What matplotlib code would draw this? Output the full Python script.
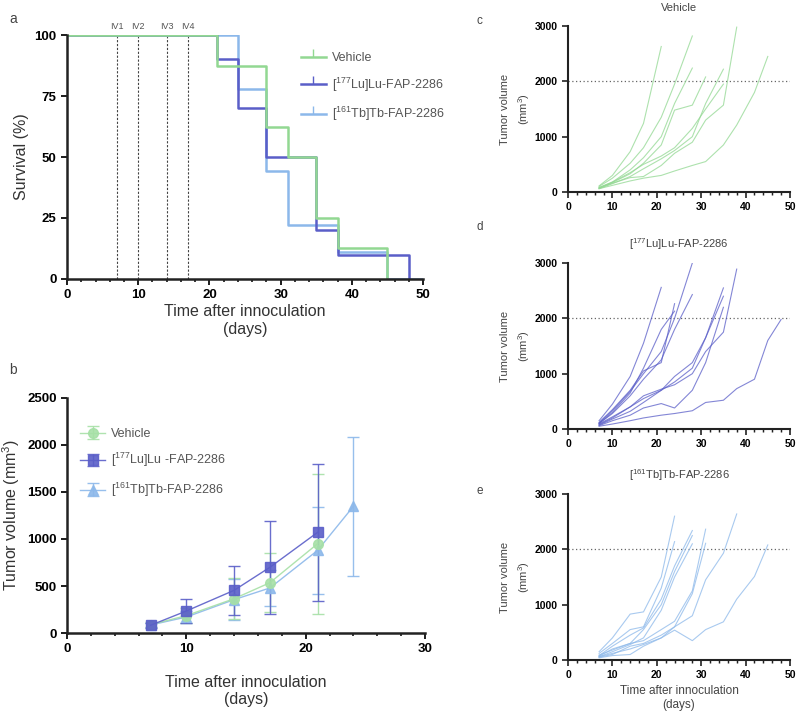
import matplotlib
matplotlib.use("Agg")
import matplotlib.pyplot as plt
from matplotlib.lines import Line2D
from matplotlib.ticker import MultipleLocator

plt.rcParams['font.family'] = ['Liberation Sans', 'DejaVu Sans']
plt.rcParams['mathtext.default'] = 'regular'

GREEN = '#92d892'
LU = '#5a5ec8'
TB = '#8cb8ea'

lab_veh = 'Vehicle'
lab_lu = '[$^{177}$Lu]Lu-FAP-2286'
lab_tb = '[$^{161}$Tb]Tb-FAP-2286'

# survival (Kaplan-Meier steps)
veh_t = [0, 21, 28, 31, 35, 38, 45]
veh_s = [100, 87.5, 62.5, 50, 25, 12.5, 0]
lu_t = [0, 21, 24, 28, 35, 38, 48]
lu_s = [100, 90, 70, 50, 20, 10, 0]
tb_t = [0, 24, 28, 31, 38, 45]
tb_s = [100, 77.8, 44.4, 22.2, 11.1, 0]
iv_days = [7, 10, 14, 17]
iv_labels = ['IV1', 'IV2', 'IV3', 'IV4']

# mean tumor volume +- SD
mean_days_veh = [7, 10, 14, 17, 21]
mean_veh = [88, 185, 365, 535, 950]
sd_veh = [25, 80, 215, 316, 745]
mean_days_lu = [7, 10, 14, 17, 21]
mean_lu = [82, 234, 454, 699, 1071]
sd_lu = [25, 124, 260, 492, 730]
mean_days_tb = [7, 10, 14, 17, 21, 24]
mean_tb = [85, 170, 355, 479, 879, 1348]
sd_tb = [25, 60, 215, 195, 460, 737]

# individual tumor growth
days = [7, 10, 14, 17, 21, 24, 28, 31, 35, 38, 42, 45, 48]
veh_mice = [
    [110, 300, 730, 1240, 2630],
    [100, 250, 520, 800, 1350, 1950, 2820],
    [80, 180, 400, 620, 1000, 1600, 2240],
    [70, 170, 330, 520, 850, 1480, 1570, 2080],
    [60, 150, 280, 420, 600, 750, 1000, 1600, 2220],
    [80, 180, 350, 500, 650, 800, 1150, 1500, 1950],
    [70, 160, 260, 280, 480, 700, 900, 1300, 1570, 2980],
    [60, 120, 200, 250, 300, 380, 480, 550, 850, 1210, 1800, 2450],
]
lu_mice = [
    [150, 450, 950, 1550, 2560],
    [120, 350, 700, 1050, 1200, 2265],
    [100, 300, 650, 1100, 1800, 2130],
    [110, 330, 680, 1000, 1400, 2000, 3000],
    [100, 280, 600, 900, 1250, 1800, 2430],
    [80, 200, 400, 550, 700, 950, 1200, 1650, 2550],
    [70, 180, 320, 480, 700, 850, 1100, 1650, 2400],
    [60, 150, 250, 380, 460, 380, 700, 1200, 2200],
    [90, 220, 400, 600, 720, 800, 1000, 1400, 1750, 2890],
    [50, 90, 150, 200, 250, 280, 330, 480, 520, 730, 900, 1600, 1980],
]
tb_mice = [
    [150, 400, 830, 870, 1500, 2600],
    [120, 300, 550, 600, 1300, 2140],
    [80, 250, 450, 580, 1100, 1700, 2340],
    [70, 200, 300, 550, 1000, 1600, 2250],
    [60, 150, 280, 400, 900, 1500, 2100],
    [90, 180, 300, 350, 550, 700, 1250, 2365],
    [50, 100, 250, 300, 450, 600, 1200, 2110],
    [60, 120, 200, 280, 400, 600, 800, 1450, 1930, 2640],
    [40, 80, 100, 250, 400, 540, 350, 550, 690, 1100, 1510, 2080],
]


def style(ax, lw=1.8, tick_fs=8, minor=2):
    for s in ['top', 'right']:
        ax.spines[s].set_visible(False)
    for s in ['left', 'bottom']:
        ax.spines[s].set_linewidth(lw)
        ax.spines[s].set_color('#222222')
    ax.xaxis.set_minor_locator(MultipleLocator(minor))
    ax.tick_params(which='major', length=4, width=lw * 0.8, labelsize=tick_fs, color='#222222')
    ax.tick_params(which='minor', length=2.5, width=lw * 0.7, color='#222222')
    for t in ax.get_xticklabels() + ax.get_yticklabels():
        t.set_fontweight('bold')


fig = plt.figure(figsize=(7.97, 7.13), dpi=100)

# ---- a: survival
axa = fig.add_axes([0.0841, 0.6087, 0.4467, 0.3422])
for d, l in zip(iv_days, iv_labels):
    axa.plot([d, d], [0, 100], ls=(0, (2, 1.5)), color='#444444', lw=0.8)
    axa.text(d, 101.5, l, ha='center', va='bottom', fontsize=6.5, color='#555555')
axa.step(tb_t + [50], tb_s + [0], where='post', color=TB, lw=1.8)
axa.step(lu_t, lu_s, where='post', color=LU, lw=1.8)
axa.step(veh_t, veh_s, where='post', color=GREEN, lw=1.8)
axa.set_xlim(0, 50)
axa.set_ylim(0, 100)
axa.set_xticks([0, 10, 20, 30, 40, 50])
axa.set_yticks([0, 25, 50, 75, 100])
style(axa, tick_fs=9.5)
axa.set_ylabel('Survival (%)', fontsize=11.5, color='#333333')
axa.set_xlabel('Time after innoculation\n(days)', fontsize=11.5, color='#333333', labelpad=2)
hs = [Line2D([], [], color=c, lw=1.8, marker=2, markersize=6) for c in [GREEN, LU, TB]]
axa.legend(hs, [lab_veh, lab_lu, lab_tb], loc='upper left', bbox_to_anchor=(0.625, 0.975),
           frameon=False, fontsize=9, labelcolor='#555555', handlelength=2.0,
           handletextpad=0.5, labelspacing=0.9)
fig.text(0.012, 0.968, 'a', fontsize=10, color='#444444')

# ---- b: mean tumor volume
axb = fig.add_axes([0.0841, 0.1122, 0.4492, 0.3296])
axb.errorbar(mean_days_tb, mean_tb, yerr=sd_tb, color=TB, marker='^', ms=7, lw=1,
             capsize=4, elinewidth=1, label='[$^{161}$Tb]Tb-FAP-2286', alpha=0.9)
axb.errorbar(mean_days_veh, mean_veh, yerr=sd_veh, color='#a6e0a6', marker='o', ms=7, lw=1,
             capsize=4, elinewidth=1, label='Vehicle', alpha=0.9)
axb.errorbar(mean_days_lu, mean_lu, yerr=sd_lu, color=LU, marker='s', ms=7, lw=1,
             capsize=4, elinewidth=1, label='[$^{177}$Lu]Lu -FAP-2286', alpha=0.9)
axb.set_xlim(0, 30)
axb.set_ylim(0, 2500)
axb.set_xticks([0, 10, 20, 30])
axb.set_yticks([0, 500, 1000, 1500, 2000, 2500])
style(axb, tick_fs=9.5)
axb.set_ylabel('Tumor volume (mm$^3$)', fontsize=11.5, color='#333333')
axb.set_xlabel('Time after innoculation\n(days)', fontsize=11.5, color='#333333', labelpad=14)
h, l = axb.get_legend_handles_labels()
axb.legend([h[1], h[2], h[0]], [l[1], l[2], l[0]], loc='upper left', bbox_to_anchor=(0.005, 0.92),
           frameon=False, fontsize=9, labelcolor='#555555', handlelength=2.0,
           handletextpad=0.5, labelspacing=0.9)
fig.text(0.012, 0.476, 'b', fontsize=10, color='#444444')

# ---- c, d, e: individual growth curves
panels = [
    (0.7307, veh_mice, GREEN, lab_veh, 'c', 0.966),
    (0.3983, lu_mice, LU, lab_lu, 'd', 0.678),
    (0.0743, tb_mice, TB, lab_tb, 'e', 0.307),
]
for i, (bot, mice, col, title, letter, ly) in enumerate(panels):
    ax = fig.add_axes([0.7127, bot, 0.2785, 0.2328])
    ax.axhline(2000, color='#666666', ls=(0, (1, 2)), lw=0.9)
    for v in mice:
        ax.plot(days[:len(v)], v, color=col, lw=0.8, alpha=0.75)
    ax.set_xlim(0, 50)
    ax.set_ylim(0, 3000)
    ax.set_xticks([0, 10, 20, 30, 40, 50])
    ax.set_yticks([0, 1000, 2000, 3000])
    style(ax, lw=1.5, tick_fs=7.5)
    ax.set_title(title, fontsize=8, color='#444444', pad=11)
    ax.set_ylabel('Tumor volume\n(mm$^3$)', fontsize=8, color='#444444', labelpad=2,
                  linespacing=1.5)
    if i == 2:
        ax.set_xlabel('Time after innoculation\n(days)', fontsize=8.5, color='#444444',
                      labelpad=3, linespacing=1.3)
    fig.text(0.598, ly, letter, fontsize=8.5, color='#444444')

fig.savefig('out.png', dpi=100)
